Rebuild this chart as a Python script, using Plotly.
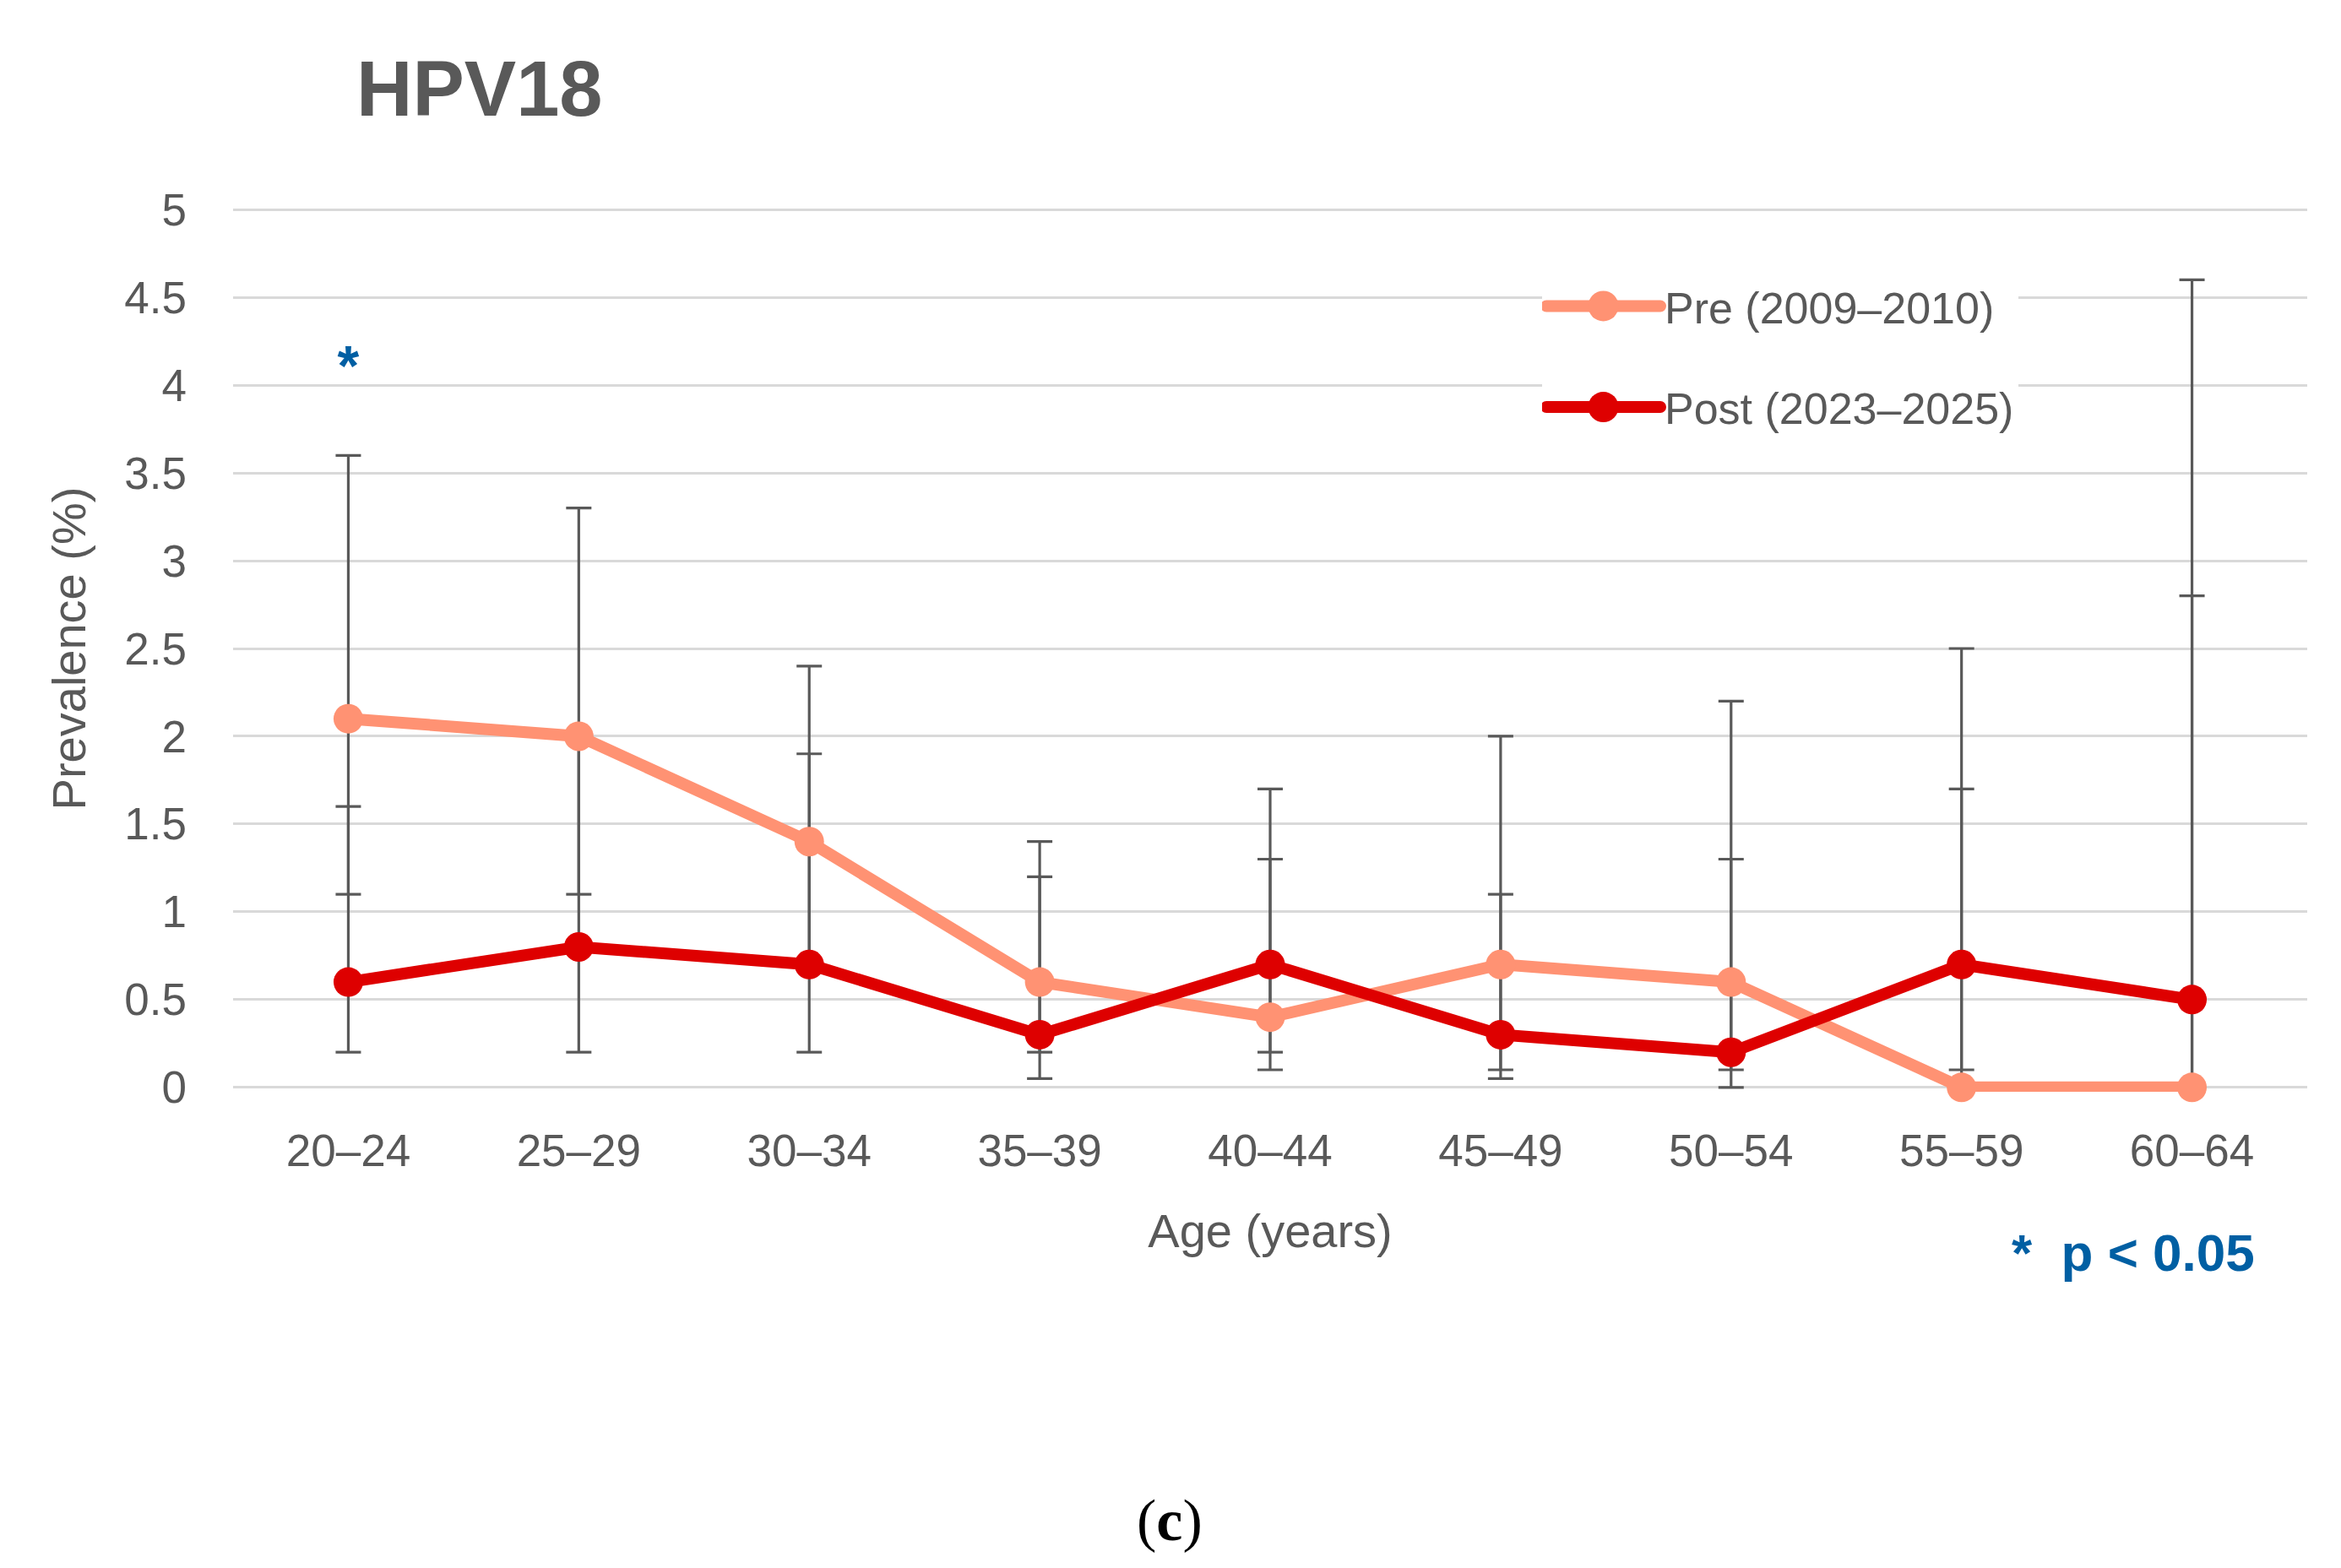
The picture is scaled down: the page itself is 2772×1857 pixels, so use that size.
import plotly.graph_objects as go

# ---------------- data ----------------
ages = ["20–24", "25–29", "30–34", "35–39", "40–44", "45–49", "50–54", "55–59", "60–64"]
pre_vals = [2.1, 2.0, 1.4, 0.6, 0.4, 0.7, 0.6, 0.0, 0.0]
pre_low = [1.1, 1.1, 0.7, 0.2, 0.1, 0.1, 0.1, 0.0, 0.0]
pre_high = [3.6, 3.3, 2.4, 1.4, 1.3, 2.0, 2.2, 1.7, 2.8]
post_vals = [0.6, 0.8, 0.7, 0.3, 0.7, 0.3, 0.2, 0.7, 0.5]
post_low = [0.2, 0.2, 0.2, 0.05, 0.2, 0.05, 0.0, 0.1, 0.0]
post_high = [1.6, 2.0, 1.9, 1.2, 1.7, 1.1, 1.3, 2.5, 4.6]
sig_ages = ["20–24"]
sig_y = [4.08]
y_ticks = [0, 0.5, 1, 1.5, 2, 2.5, 3, 3.5, 4, 4.5, 5]

PRE_NAME = "Pre (2009–2010)"
POST_NAME = "Post (2023–2025)"
PRE_COLOR = "#FF9273"
POST_COLOR = "#DE0000"
GREY = "#595959"
BLUE = "#005FA3"
FONT = "Liberation Sans, Arial, sans-serif"

# ---------------- geometry ----------------
W, H = 2772, 1857
PX_LEFT, PX_RIGHT = 268, 2724          # plot area in pixels
Y0_PX, Y5_PX = 1280, 240               # pixel rows of y=0 and y=5
PAD = 0.025                            # range padding so grid lines at 0 and 5 show
unit = (Y0_PX - Y5_PX) / 5.0
T = Y5_PX - PAD * unit
Bpx = Y0_PX + PAD * unit
L, R, B = PX_LEFT, W - PX_RIGHT, H - Bpx
PW, PH = PX_RIGHT - PX_LEFT, Bpx - T


def px_x(px):
    return (px - L) / PW


def px_y(py):
    return (Bpx - py) / PH


fig = go.Figure()

# error bars (drawn under the lines)
for vals, lo, hi in [(pre_vals, pre_low, pre_high), (post_vals, post_low, post_high)]:
    fig.add_trace(go.Scatter(
        x=ages, y=vals, mode="markers",
        marker=dict(size=2, opacity=0),
        error_y=dict(type="data", symmetric=False,
                     array=[h - v for h, v in zip(hi, vals)],
                     arrayminus=[v - l for v, l in zip(vals, lo)],
                     color=GREY, thickness=3.2, width=15),
        showlegend=False, hoverinfo="skip", cliponaxis=False,
    ))

fig.add_trace(go.Scatter(
    x=ages, y=pre_vals, mode="lines+markers", name=PRE_NAME,
    line=dict(color=PRE_COLOR, width=14),
    marker=dict(color=PRE_COLOR, size=35),
    cliponaxis=False, legendgroup="pre",
))
fig.add_trace(go.Scatter(
    x=ages, y=post_vals, mode="lines+markers", name=POST_NAME,
    line=dict(color=POST_COLOR, width=14),
    marker=dict(color=POST_COLOR, size=35),
    cliponaxis=False, legendgroup="post",
))

# significance marker
fig.add_trace(go.Scatter(
    x=sig_ages, y=sig_y, mode="text", text=["<b>*</b>"],
    textfont=dict(family=FONT, size=66, color=BLUE),
    textposition="middle center", showlegend=False, hoverinfo="skip",
    cliponaxis=False,
))

fig.update_layout(
    width=W, height=H,
    margin=dict(l=L, r=R, t=T, b=B, autoexpand=False),
    paper_bgcolor="white", plot_bgcolor="white",
    font=dict(family=FONT, color=GREY, size=52),
    title=dict(text="<b>HPV18</b>", x=414 / W, xanchor="left", xref="container",
               y=1 - 97 / H, yanchor="middle", yref="container",
               font=dict(family=FONT, size=92, color=GREY)),
    legend=dict(x=px_x(1818), xanchor="left", y=px_y(314), yanchor="top",
                bgcolor="white", font=dict(family=FONT, size=52, color=GREY),
                itemwidth=135, tracegroupgap=49, traceorder="grouped"),
    showlegend=True,
)

fig.update_xaxes(
    type="category", range=[-0.5, 8.5], showgrid=False, showline=False, zeroline=False,
    ticks="", tickfont=dict(family=FONT, size=53, color=GREY), ticklabelstandoff=34,
    title=dict(text="Age (years)", font=dict(family=FONT, size=56, color=GREY), standoff=46),
)
fig.update_yaxes(
    range=[-PAD, 5 + PAD], tickvals=y_ticks, ticktext=[f"{v:g}" for v in y_ticks],
    showgrid=True, gridcolor="#D9D9D9", gridwidth=3, zeroline=False, showline=False,
    ticks="", tickfont=dict(family=FONT, size=53, color=GREY), ticklabelstandoff=54,
    title=dict(text="Prevalence (%)", font=dict(family=FONT, size=56, color=GREY), standoff=27),
)

fig.add_annotation(
    text="<b>*  p < 0.05</b>", xref="paper", yref="paper",
    x=px_x(2664), xanchor="right", y=px_y(1476), yanchor="middle",
    showarrow=False, font=dict(family=FONT, size=62, color=BLUE),
)
fig.add_annotation(
    text="(<b>c</b>)", xref="paper", yref="paper",
    x=px_x(1377), xanchor="center", y=px_y(1793), yanchor="middle",
    showarrow=False, font=dict(family="Liberation Serif, Times New Roman, serif", size=70, color="black"),
)

# enlarge legend symbols (plotly caps legend marker size / line width)
post_js = """
var gd = document.getElementById('{plot_id}');
function fixLegend(){
  gd.querySelectorAll('.legend .legendpoints path.scatterpts').forEach(function(p){
    p.setAttribute('d','M18,0A18,18 0 1,1 0,-18A18,18 0 0,1 18,0Z');
  });
  gd.querySelectorAll('.legend .legendlines path').forEach(function(p){
    p.style.strokeWidth='14px'; p.style.strokeLinecap='round';
  });
}
fixLegend();
gd.on('plotly_afterplot', fixLegend);
"""

fig.write_html("out.html", post_script=post_js)
